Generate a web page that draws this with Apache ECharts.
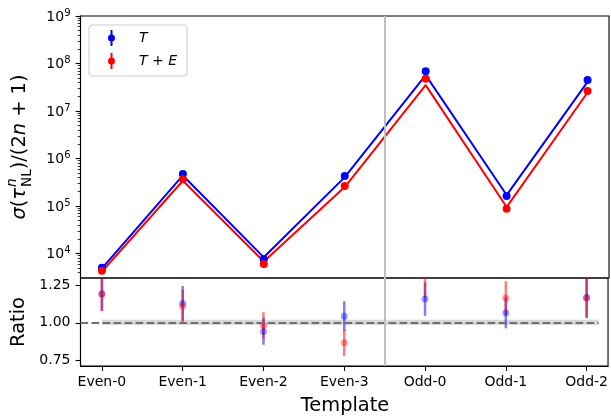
<!DOCTYPE html>
<html><head><meta charset="utf-8">
<script src="https://cdn.jsdelivr.net/npm/echarts@6/dist/echarts.min.js"></script>
<style>html,body{margin:0;padding:0;background:#fff}#c{width:611px;height:416px}</style>
</head><body><div id="c"></div>
<script>
// ---- data ----
const categories = ['Even-0','Even-1','Even-2','Even-3','Odd-0','Odd-1','Odd-2'];
const sigmaT  = [5000, 472000, 7550, 430000, 6.86e7, 1.62e5, 4.5e7];
const sigmaTE = [4350, 365000, 6010, 262000, 4.79e7, 8.8e4, 2.64e7];
const lineT   = [4880, 440000, 8300, 405000, 5.7e7, 1.7e5, 4.1e7];
const lineTE  = [4150, 340000, 6800, 250000, 3.5e7, 9.5e4, 2.45e7];
const ratioT  = [1.194, 1.131, 0.942, 1.045, 1.160, 1.068, 1.170];
const errT    = [0.115, 0.117, 0.090, 0.100, 0.113, 0.105, 0.135];
const ratioTE = [1.194, 1.113, 0.982, 0.865, 1.340, 1.167, 1.168];
const errTE   = [0.115, 0.110, 0.090, 0.090, 0.175, 0.113, 0.135];
const majorLog = [1e4, 1e5, 1e6, 1e7, 1e8, 1e9];
const ratioTicks = [0.75, 1.00, 1.25];

// ---- layout / style ----
const FF = 'DejaVu Sans';
const XMIN = -0.265, XMAX = 6.265;
const YLOGMIN = Math.pow(10, 3.484), YLOGMAX = 1e9;
const RMIN = 0.709, RMAX = 1.302;
const BLUE = '#0000ff', RED = '#ff0000';
const BLUE_A = 'rgba(0,0,255,0.5)', RED_A = 'rgba(255,0,0,0.5)';

const minorLog = [];
for (let e = 3; e <= 8; e++) for (let m = 2; m <= 9; m++) {
  const v = m * Math.pow(10, e);
  if (v >= YLOGMIN && v <= YLOGMAX) minorLog.push(v);
}
const idx = categories.map((_, i) => i);

function errRender(color) {
  return function (params, api) {
    const x = api.value(0), lo = api.value(1), hi = api.value(2);
    const p1 = api.coord([x, hi]), p2 = api.coord([x, lo]);
    const cs = params.coordSys;
    const top = Math.max(p1[1], cs.y), bot = Math.min(p2[1], cs.y + cs.height);
    if (bot <= top) return null;
    return { type: 'line', shape: { x1: p1[0], y1: top, x2: p1[0], y2: bot },
             style: { stroke: color, lineWidth: 2.5 } };
  };
}

// measured y-label for the top panel
const cv = document.createElement('canvas').getContext('2d');
function tw(t, f) { cv.font = f; return cv.measureText(t).width; }
const FS = 19.4, FSS = 13.6;
const fIt = 'italic ' + FS + 'px "' + FF + '"', fN = FS + 'px "' + FF + '"';
const fItS = 'italic ' + FSS + 'px "' + FF + '"', fNS = FSS + 'px "' + FF + '"';
const parts = [
  { t: '\u03c3', f: fIt }, { t: '(', f: fN }, { t: '\u03c4', f: fIt },
  { stack: true }, { t: ')/(2', f: fN }, { t: 'n', f: fIt }, { t: ' + 1)', f: fN }
];
let total = 0;
parts.forEach(p => {
  if (p.stack) p.w = Math.max(tw('n', fItS), tw('NL', fNS)) + 1;
  else p.w = tw(p.t, p.f);
  total += p.w;
});
const ylabChildren = [];
let cx = -total / 2;
parts.forEach(p => {
  if (p.stack) {
    ylabChildren.push({ type: 'text', x: cx + 1, y: -8, style: { text: 'n', font: fItS, fill: '#000', align: 'left', verticalAlign: 'middle' } });
    ylabChildren.push({ type: 'text', x: cx + 1, y: 7, style: { text: 'NL', font: fNS, fill: '#000', align: 'left', verticalAlign: 'middle' } });
  } else {
    ylabChildren.push({ type: 'text', x: cx, y: 0, style: { text: p.t, font: p.f, fill: '#000', align: 'left', verticalAlign: 'middle' } });
  }
  cx += p.w;
});

const chart = echarts.init(document.getElementById('c'), null, { renderer: 'canvas' });
const tickStyle = { color: '#000', width: 1.1 };
const noLine = { show: false, onZero: false };
const blackLine = { show: true, onZero: false, lineStyle: { color: '#000', width: 1.1 } };
const option = {
  animation: false,
  backgroundColor: '#fff',
  textStyle: { fontFamily: FF },
  grid: [
    { left: 80.5, right: 2, top: 16, height: 262, show: true, borderColor: '#000', borderWidth: 1.1, backgroundColor: 'transparent' },
    { left: 80.5, right: 2, top: 278, height: 88, show: true, borderColor: '#000', borderWidth: 1.1, backgroundColor: 'transparent' }
  ],
  xAxis: [
    { gridIndex: 0, type: 'value', min: XMIN, max: XMAX, position: 'bottom', axisLine: noLine, axisTick: { show: false }, axisLabel: { show: false }, splitLine: { show: false } },
    { gridIndex: 1, type: 'value', min: XMIN, max: XMAX, position: 'bottom', axisLine: blackLine,
      axisTick: { show: true, inside: false, length: 4.9, lineStyle: tickStyle, customValues: idx },
      axisLabel: { customValues: idx, formatter: v => categories[Math.round(v)] || '', fontSize: 14, color: '#000', fontFamily: FF, margin: 9 },
      splitLine: { show: false } }
  ],
  yAxis: [
    { gridIndex: 0, type: 'log', logBase: 10, min: YLOGMIN, max: YLOGMAX, position: 'left',
      axisLine: blackLine, splitLine: { show: false },
      axisTick: { show: true, inside: false, length: 4.9, lineStyle: tickStyle, customValues: majorLog },
      axisLabel: { customValues: majorLog, margin: 10, color: '#000',
        formatter: v => '{b|10}{s|' + Math.round(Math.log10(v)) + '}',
        rich: { b: { fontSize: 14, lineHeight: 16, verticalAlign: 'bottom', fontFamily: FF, color: '#000' },
                s: { fontSize: 10, lineHeight: 13, padding: [0, 0, 7, 0], verticalAlign: 'top', fontFamily: FF, color: '#000' } } } },
    { gridIndex: 0, type: 'log', logBase: 10, min: YLOGMIN, max: YLOGMAX, position: 'left',
      axisLine: noLine, splitLine: { show: false }, axisLabel: { show: false },
      axisTick: { show: true, inside: false, length: 2.8, lineStyle: { color: '#000', width: 0.8 }, customValues: minorLog } },
    { gridIndex: 1, type: 'value', min: RMIN, max: RMAX, position: 'left',
      axisLine: blackLine, splitLine: { show: false },
      axisTick: { show: true, inside: false, length: 4.9, lineStyle: tickStyle, customValues: ratioTicks },
      axisLabel: { customValues: ratioTicks, formatter: v => v.toFixed(2), fontSize: 14, color: '#000', fontFamily: FF, margin: 10 } }
  ],
  legend: {
    left: 89, top: 25, orient: 'vertical',
    data: ['T', 'T + E'],
    icon: 'path://M3,0 L5,0 L5,16 L3,16 Z M7.5,8 A3.5,3.5 0 1 1 0.5,8 A3.5,3.5 0 1 1 7.5,8 Z',
    itemWidth: 7, itemHeight: 16, itemGap: 7,
    padding: [5, 10, 7, 19],
    borderColor: '#cccccc', borderWidth: 1, borderRadius: 3, backgroundColor: 'rgba(255,255,255,0.8)',
    formatter: n => n === 'T' ? '{i|T}' : '{i|T}{n| + }{i|E}',
    textStyle: { padding: [0, 0, 0, 19], rich: {
      i: { fontStyle: 'italic', fontSize: 14, fontFamily: FF, color: '#000' },
      n: { fontSize: 14, fontFamily: FF, color: '#000' } } }
  },
  graphic: [
    { type: 'group', x: 20, y: 147, rotation: Math.PI / 2, children: ylabChildren },
    { type: 'text', x: 19, y: 322, rotation: Math.PI / 2, style: { text: 'Ratio', font: fN, fill: '#000', align: 'center', verticalAlign: 'middle' } },
    { type: 'text', x: 345, y: 405.5, style: { text: 'Template', font: fN, fill: '#000', align: 'center', verticalAlign: 'middle' } }
  ],
  series: [
    { name: 'T line', type: 'line', xAxisIndex: 0, yAxisIndex: 0, data: lineT.map((v, i) => [i, v]),
      symbol: 'none', lineStyle: { color: BLUE, width: 2 }, itemStyle: { color: BLUE }, z: 2, silent: true,
      markLine: { silent: true, symbol: ['none', 'none'], label: { show: false },
        lineStyle: { color: '#c0c0c0', width: 2, type: 'solid' }, data: [{ xAxis: 3.5 }] } },
    { name: 'T+E line', type: 'line', xAxisIndex: 0, yAxisIndex: 0, data: lineTE.map((v, i) => [i, v]),
      symbol: 'none', lineStyle: { color: RED, width: 2 }, itemStyle: { color: RED }, z: 2, silent: true },
    { name: 'T', type: 'scatter', xAxisIndex: 0, yAxisIndex: 0, data: sigmaT.map((v, i) => [i, v]),
      symbol: 'circle', symbolSize: 8, itemStyle: { color: BLUE, opacity: 1 }, z: 3 },
    { name: 'T + E', type: 'scatter', xAxisIndex: 0, yAxisIndex: 0, data: sigmaTE.map((v, i) => [i, v]),
      symbol: 'circle', symbolSize: 8, itemStyle: { color: RED, opacity: 1 }, z: 3 },
    { name: 'ref', type: 'line', xAxisIndex: 1, yAxisIndex: 2, data: [], symbol: 'none', z: 1, silent: true,
      markArea: { silent: true, itemStyle: { color: 'rgba(128,128,128,0.3)' },
        data: [[{ coord: [0, 0.985] }, { coord: [6.15, 1.02] }]] },
      markLine: { silent: true, symbol: ['none', 'none'], label: { show: false },
        data: [
          [{ coord: [XMIN, 1.0], lineStyle: { color: '#707070', width: 2, type: [7.7, 3.3] } }, { coord: [6.15, 1.0] }],
          [{ coord: [3.5, RMIN], lineStyle: { color: '#c0c0c0', width: 2, type: 'solid' } }, { coord: [3.5, RMAX] }]
        ] } },
    { name: 'errT', type: 'custom', xAxisIndex: 1, yAxisIndex: 2, renderItem: errRender(BLUE_A),
      data: ratioT.map((v, i) => [i, v - errT[i], v + errT[i]]), encode: { x: 0, y: [1, 2] }, z: 3, silent: true },
    { name: 'T ratio', type: 'scatter', xAxisIndex: 1, yAxisIndex: 2, data: ratioT.map((v, i) => [i, v]),
      symbolSize: 7, itemStyle: { color: BLUE_A }, z: 3, silent: true },
    { name: 'errTE', type: 'custom', xAxisIndex: 1, yAxisIndex: 2, renderItem: errRender(RED_A),
      data: ratioTE.map((v, i) => [i, v - errTE[i], v + errTE[i]]), encode: { x: 0, y: [1, 2] }, z: 3, silent: true },
    { name: 'T+E ratio', type: 'scatter', xAxisIndex: 1, yAxisIndex: 2, data: ratioTE.map((v, i) => [i, v]),
      symbolSize: 7, itemStyle: { color: RED_A }, z: 3, silent: true }
  ]
};
chart.setOption(option);
</script>
</body></html>
